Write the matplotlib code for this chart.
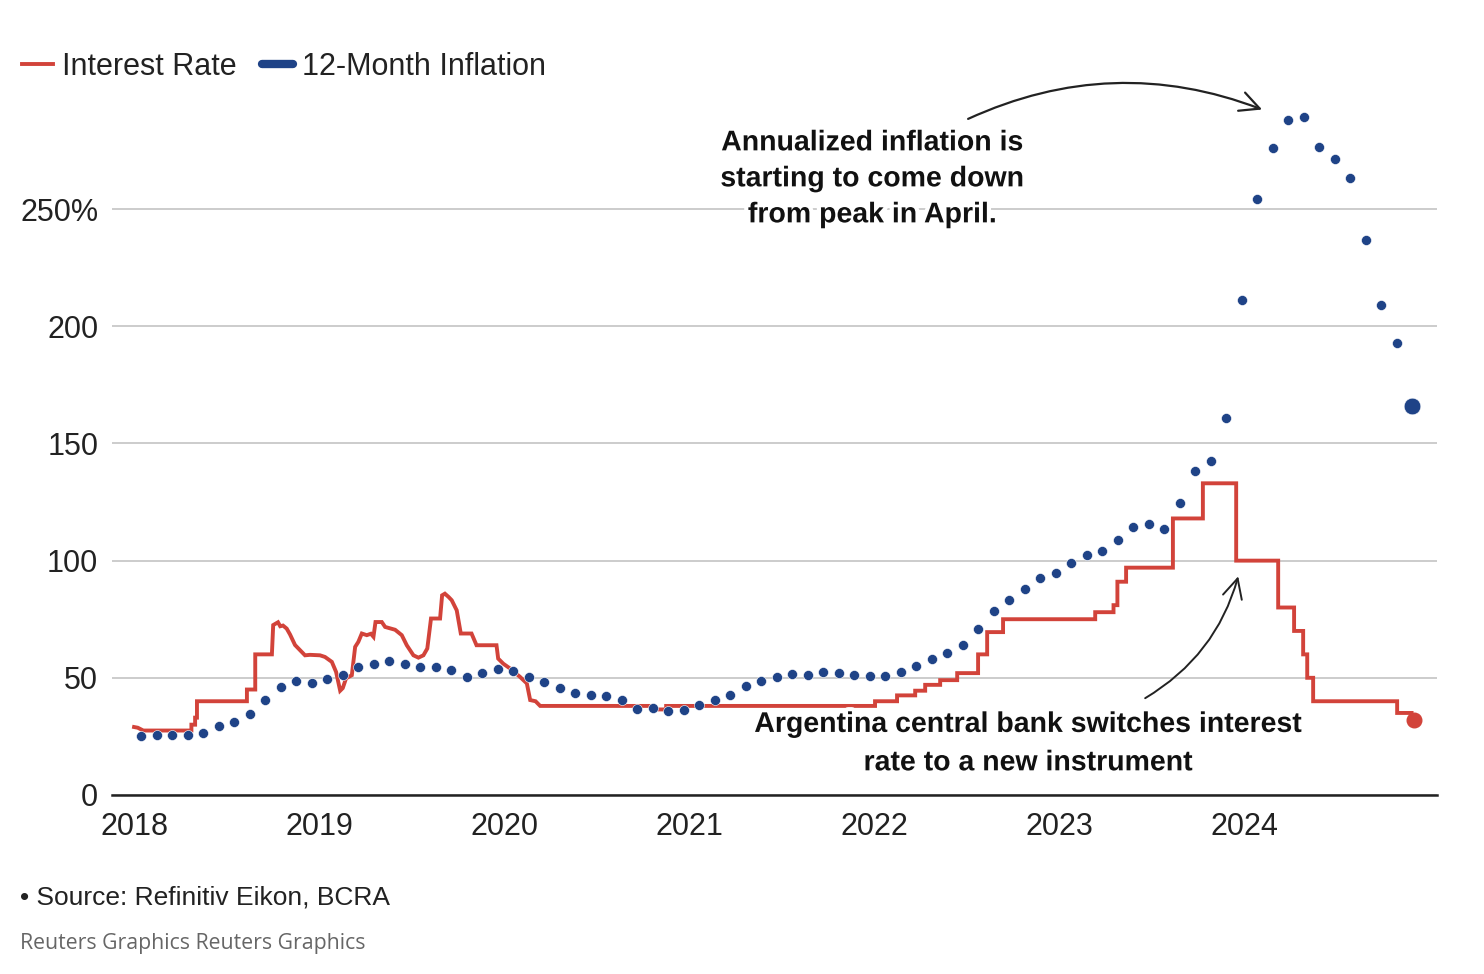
import numpy as np
import matplotlib
matplotlib.use("Agg")
import matplotlib.pyplot as plt
import matplotlib.patheffects as pe
from matplotlib.lines import Line2D

plt.rcParams["font.family"] = ["Liberation Sans", "DejaVu Sans"]

# ---------- Data ----------
# 12-month inflation, monthly Jan 2018 .. Nov 2024 (%)
infl_2018 = [25.0, 25.4, 25.4, 25.5, 26.3, 29.5, 31.2, 34.4, 40.5, 45.9, 48.5, 47.6]
infl_2019 = [49.3, 51.3, 54.7, 55.8, 57.3, 55.8, 54.4, 54.5, 53.5, 50.5, 52.1, 53.8]
infl_2020 = [52.9, 50.3, 48.4, 45.6, 43.4, 42.8, 42.4, 40.7, 36.6, 37.2, 35.8, 36.1]
infl_2021 = [38.5, 40.7, 42.6, 46.3, 48.8, 50.2, 51.8, 51.4, 52.5, 52.1, 51.2, 50.9]
infl_2022 = [50.7, 52.3, 55.1, 58.0, 60.7, 64.0, 71.0, 78.5, 83.0, 88.0, 92.4, 94.8]
infl_2023 = [98.8, 102.5, 104.3, 108.8, 114.2, 115.6, 113.4, 124.4, 138.3, 142.7, 160.9, 211.4]
infl_2024 = [254.2, 276.2, 287.9, 289.4, 276.4, 271.5, 263.4, 236.7, 209.0, 193.0, 166.0]

inflation = infl_2018 + infl_2019 + infl_2020 + infl_2021 + infl_2022 + infl_2023 + infl_2024
# monthly dates, plotted a little after mid-month
infl_t = 2018.04 + np.arange(len(inflation)) * (6.87 / (len(inflation) - 1))

# Policy interest rate (decimal year, %)
rate_t = [2018.00, 2018.02, 2018.05, 2018.31, 2018.31, 2018.33, 2018.33, 2018.34, 2018.34,
          2018.61, 2018.61, 2018.655, 2018.655, 2018.745, 2018.752, 2018.778, 2018.79, 2018.805,
          2018.825, 2018.843, 2018.870, 2018.897, 2018.924, 2018.951, 2019.005, 2019.032,
          2019.069, 2019.092, 2019.114, 2019.128, 2019.146, 2019.177, 2019.195, 2019.212,
          2019.231, 2019.258, 2019.28, 2019.294, 2019.305, 2019.339, 2019.357, 2019.411,
          2019.447, 2019.474, 2019.510, 2019.537, 2019.564, 2019.585, 2019.605, 2019.654,
          2019.665, 2019.680, 2019.700, 2019.717, 2019.744, 2019.766, 2019.824, 2019.851,
          2019.959, 2019.968, 2019.996, 2020.032, 2020.086, 2020.123, 2020.141, 2020.170,
          2020.195, 2020.80, 2020.80, 2020.876, 2020.876, 2022.005, 2022.005, 2022.124,
          2022.124, 2022.222, 2022.222, 2022.276, 2022.276, 2022.357, 2022.357, 2022.449,
          2022.449, 2022.562, 2022.562, 2022.611, 2022.611, 2022.697, 2022.697, 2023.195,
          2023.195, 2023.294, 2023.294, 2023.315, 2023.315, 2023.362, 2023.362, 2023.615,
          2023.615, 2023.777, 2023.777, 2023.957, 2023.957, 2024.184, 2024.184, 2024.27,
          2024.27, 2024.319, 2024.319, 2024.341, 2024.341, 2024.373, 2024.373, 2024.827,
          2024.827, 2024.905, 2024.905, 2024.918]
rate_v = [29.0, 28.7, 27.5, 27.5, 30.0, 30.0, 33.0, 33.0, 40.0,
          40.0, 45.0, 45.0, 60.0, 60.0, 72.5, 73.7, 72.0, 72.3,
          71.0, 68.5, 64.0, 61.8, 59.6, 59.8, 59.6, 58.9,
          56.8, 52.5, 44.5, 45.6, 49.8, 51.1, 63.2, 65.3,
          68.9, 68.2, 68.8, 67.5, 73.8, 73.8, 71.7, 70.5,
          68.2, 63.9, 59.6, 58.6, 59.6, 62.5, 75.3, 75.3,
          85.2, 85.9, 84.5, 83.1, 78.8, 68.9, 68.9, 63.9,
          63.9, 58.2, 56.0, 54.0, 50.4, 47.6, 40.5, 40.0,
          38.0, 38.0, 36.5, 36.5, 38.0, 38.0, 40.0, 40.0,
          42.5, 42.5, 44.5, 44.5, 47.0, 47.0, 49.0, 49.0,
          52.0, 52.0, 60.0, 60.0, 69.5, 69.5, 75.0, 75.0,
          78.0, 78.0, 81.0, 81.0, 91.0, 91.0, 97.0, 97.0,
          118.0, 118.0, 133.0, 133.0, 100.0, 100.0, 80.0, 80.0,
          70.0, 70.0, 60.0, 60.0, 50.0, 50.0, 40.0, 40.0,
          35.0, 35.0, 32.0, 32.0]

years = [2018, 2019, 2020, 2021, 2022, 2023, 2024]
y_ticks = [0, 50, 100, 150, 200, 250]
y_labels = ["0", "50", "100", "150", "200", "250%"]

RED = "#d2433a"
BLUE = "#1f4387"
INK = "#222222"

# ---------- Figure ----------
fig = plt.figure(figsize=(14.84, 9.74), dpi=100)
ax = fig.add_axes([0.0755, 0.1838, 0.8929, 0.7218])

ax.plot(rate_t, rate_v, color=RED, lw=2.8, solid_joinstyle="miter", zorder=3)
ax.plot(rate_t[-1], rate_v[-1], "o", color=RED, ms=10.5, zorder=4)

ax.plot(infl_t[:-1], inflation[:-1], "o", color=BLUE, ms=7.2, mec="white", mew=0.4, zorder=5)
ax.plot(infl_t[-1], inflation[-1], "o", color=BLUE, ms=12, mec="white", mew=0.4, zorder=5)

ax.set_xlim(2017.881, 2025.043)
ax.set_ylim(0, 300)
ax.set_xticks(years)
ax.set_xticklabels([str(y) for y in years])
ax.set_yticks(y_ticks)
ax.set_yticklabels(y_labels)
ax.tick_params(axis="both", length=0, labelsize=22, labelcolor=INK)
ax.tick_params(axis="x", pad=12.5)
ax.tick_params(axis="y", pad=10)

for s in ["top", "right", "left"]:
    ax.spines[s].set_visible(False)
ax.spines["bottom"].set_color(INK)
ax.spines["bottom"].set_linewidth(1.8)
ax.grid(axis="y", color="#cccccc", lw=1.4)
ax.set_axisbelow(True)

# ---------- Annotations ----------
halo = [pe.withStroke(linewidth=6, foreground="white")]
ax.text(2021.99, 262.7, "Annualized inflation is\nstarting to come down\nfrom peak in April.",
        ha="center", va="center", fontsize=20.5, fontweight="bold", color="#111111",
        linespacing=1.5, path_effects=halo, zorder=6)
ax.text(2022.832, 21.7, "Argentina central bank switches interest\nrate to a new instrument",
        ha="center", va="center", fontsize=20.5, fontweight="bold", color="#111111",
        linespacing=1.62, path_effects=halo, zorder=6)

ax.annotate("", xy=(2024.097, 292.5), xytext=(2022.508, 288.5),
            arrowprops=dict(arrowstyle="->,head_length=0.7,head_width=0.35",
                            connectionstyle="arc3,rad=-0.21", color=INK, lw=1.6,
                            mutation_scale=20, shrinkA=0, shrinkB=0),
            annotation_clip=False, zorder=6)
ax.annotate("", xy=(2023.968, 93.3), xytext=(2023.465, 41.3),
            arrowprops=dict(arrowstyle="->,head_length=0.7,head_width=0.35",
                            connectionstyle="arc3,rad=0.2", color=INK, lw=1.4,
                            mutation_scale=20, shrinkA=0, shrinkB=0),
            annotation_clip=False, zorder=6)

# ---------- Legend ----------
handles = [Line2D([], [], color=RED, lw=2.8),
           Line2D([], [], color=BLUE, lw=6, solid_capstyle="round")]
fig.legend(handles, ["Interest Rate", "12-Month Inflation"], loc="center left",
           bbox_to_anchor=(22 / 1484, 1 - 67 / 974), ncol=2, frameon=False,
           fontsize=22, handlelength=1.0, handletextpad=0.3, columnspacing=0.85,
           borderpad=0, borderaxespad=0, labelcolor=INK)

# ---------- Footer ----------
fig.text(20 / 1484, 1 - 898 / 974, "\u2022 Source: Refinitiv Eikon, BCRA",
         fontsize=19, color=INK, va="center", ha="left")
fig.text(20 / 1484, 1 - 943 / 974, "Reuters Graphics Reuters Graphics",
         fontsize=15.3, color="#666666", va="center", ha="left",
         family=["Open Sans", "DejaVu Sans"])

fig.savefig("out.png", dpi=100, facecolor="white")
